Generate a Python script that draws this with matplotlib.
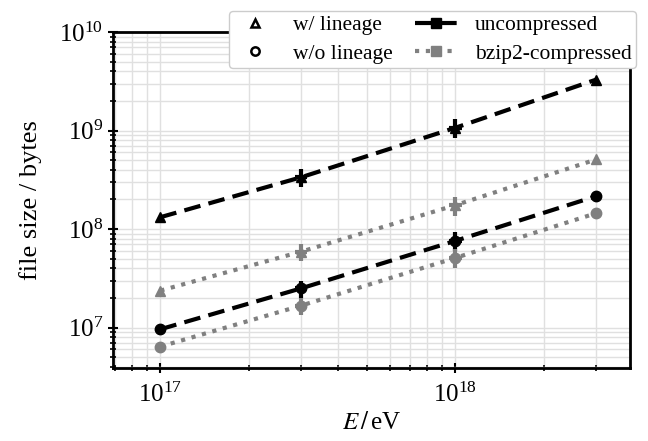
import matplotlib
matplotlib.use("Agg")
import matplotlib.pyplot as plt
from matplotlib.lines import Line2D
import numpy as np

plt.rcParams["font.family"] = ["Liberation Serif", "DejaVu Serif"]
plt.rcParams["mathtext.fontset"] = "stix"

# energies in eV
energy = [1e17, 3e17, 1e18, 3e18]

# file size in bytes
unc_lineage = [1.32e8, 3.36e8, 1.07e9, 3.3e9]
bz2_lineage = [2.37e7, 5.9e7, 1.75e8, 5.1e8]
unc_nolineage = [9.6e6, 2.5e7, 7.6e7, 2.16e8]
bz2_nolineage = [6.4e6, 1.67e7, 5.1e7, 1.45e8]

# relative spread (no spread on the last point)
rel_y_err = [0.0, 0.2, 0.22, 0.0]
rel_x_err = [0.0, 0.05, 0.05, 0.0]

fig = plt.figure(figsize=(6.48, 4.41), dpi=100)
ax = fig.add_axes([0.174, 0.166, 0.798, 0.761])

dash = (0, (4, 2))
dot = (0, (1, 1.6))
series = [
    (unc_lineage, "^", "black", dash),
    (bz2_lineage, "^", "gray", dot),
    (unc_nolineage, "o", "black", dash),
    (bz2_nolineage, "o", "gray", dot),
]
for vals, mk, col, ls in series:
    vals = np.asarray(vals)
    ax.errorbar(energy, vals, yerr=vals * np.asarray(rel_y_err),
                xerr=np.asarray(energy) * np.asarray(rel_x_err),
                marker=mk, color=col, ls=ls, lw=3, ms=7.5, elinewidth=3, capsize=0,
                zorder=3)

ax.set_xscale("log")
ax.set_yscale("log")
ax.set_xlim(6.9e16, 3.9e18)
ax.set_ylim(3.9e6, 1e10)
ax.grid(True, which="both", color="#e0e0e0", lw=1, zorder=0)
ax.set_axisbelow(True)
for s in ax.spines.values():
    s.set_linewidth(2)
ax.tick_params(which="major", direction="inout", length=7, width=1.5, labelsize=18)
ax.tick_params(axis="x", which="major", pad=7)
ax.tick_params(which="minor", direction="inout", length=4, width=1.2)
ax.set_xlabel(r"$E\,/\,$eV", fontsize=18, labelpad=4)
ax.set_ylabel("file size / bytes", fontsize=19, labelpad=12)

handles = [
    Line2D([], [], ls="none", marker="^", color="black", mfc="white", mew=1.8, ms=6),
    Line2D([], [], ls="none", marker="o", color="black", mfc="white", mew=1.8, ms=6),
    Line2D([], [], ls=dash, marker="s", color="black", lw=3, ms=7),
    Line2D([], [], ls=dot, marker="s", color="gray", lw=3, ms=7),
]
labels = ["w/ lineage", "w/o lineage", "uncompressed", "bzip2-compressed"]
fig.legend(handles, labels, loc="upper right", bbox_to_anchor=(0.998, 1.0), ncol=2,
           fontsize=15.5, framealpha=1, edgecolor="#cccccc", handlelength=2.0,
           columnspacing=1.0, borderpad=0.2, labelspacing=0.4, handletextpad=0.8)

fig.savefig("out.png", dpi=100)
